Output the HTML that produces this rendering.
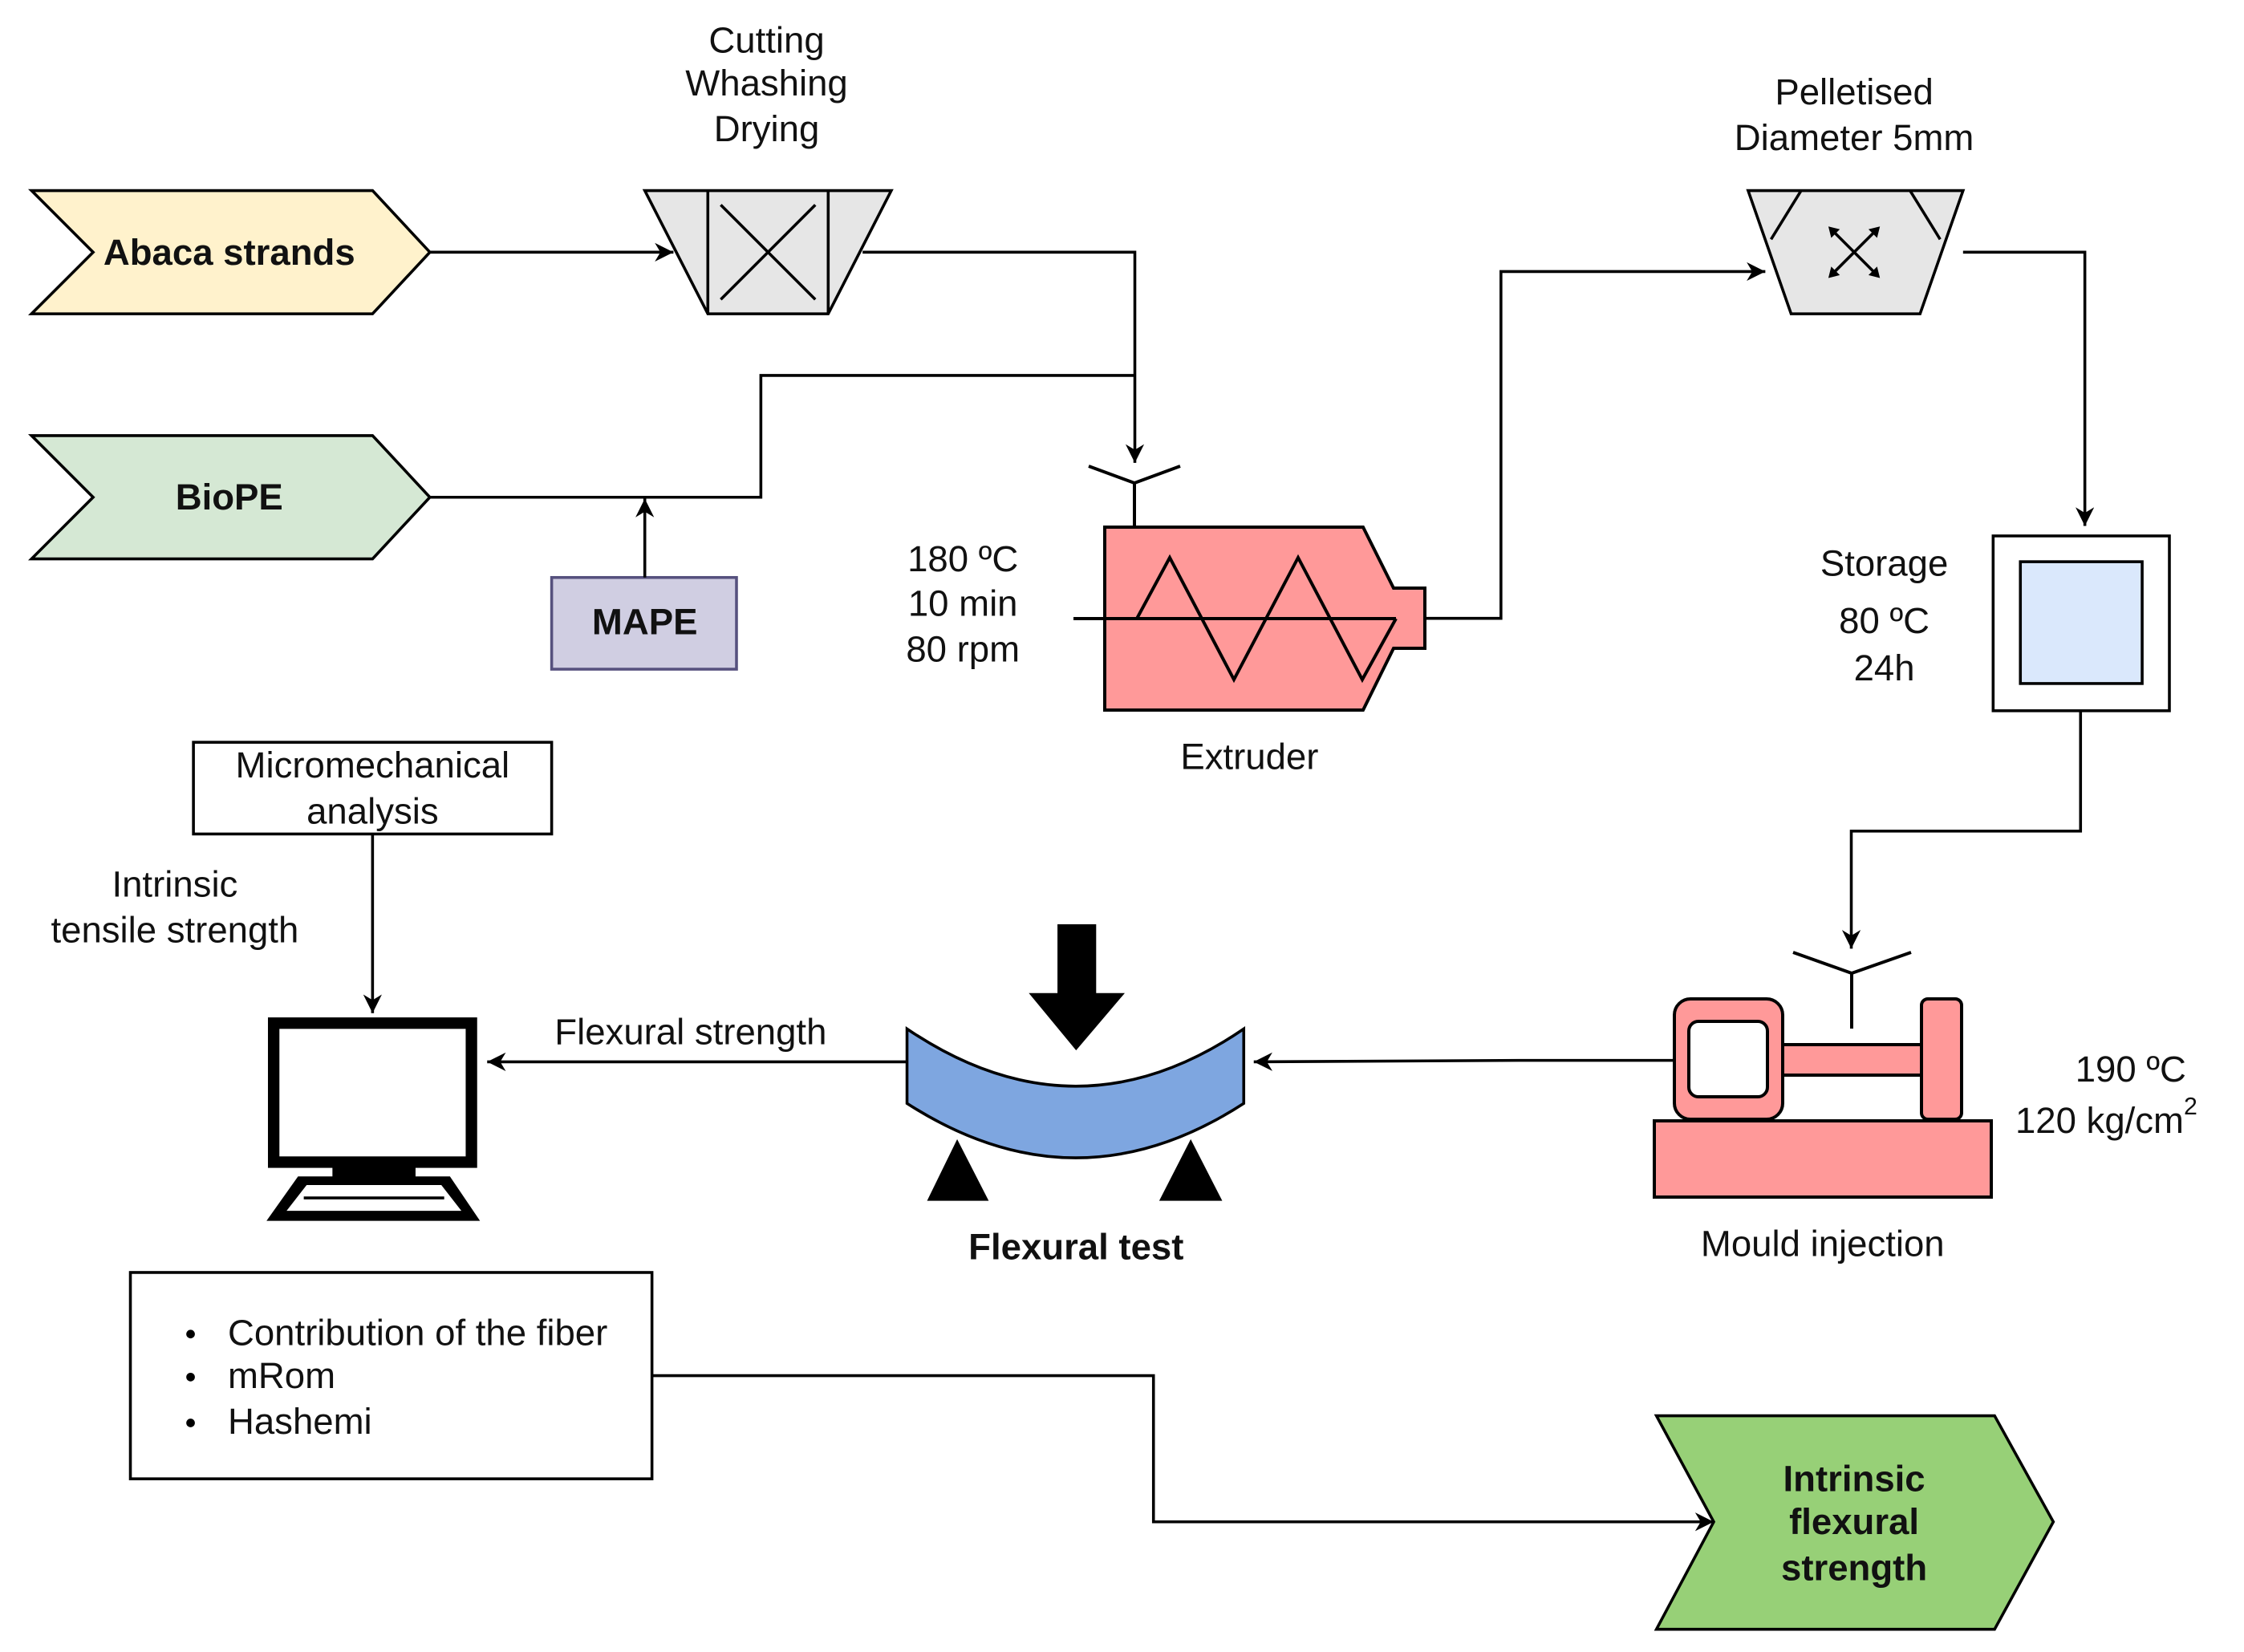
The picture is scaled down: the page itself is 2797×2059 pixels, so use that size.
<!DOCTYPE html>
<html><head><meta charset="utf-8"><style>
html,body{margin:0;padding:0;background:#fff}
svg{display:block}
text{font-family:"Liberation Sans","DejaVu Sans",sans-serif;fill:#111}
</style></head><body>
<svg width="2797" height="2059" viewBox="0 0 2797 2059" xmlns="http://www.w3.org/2000/svg">
<defs>
<marker id="a" viewBox="0 0 10 10" refX="10" refY="5" markerWidth="16" markerHeight="13" markerUnits="userSpaceOnUse" orient="auto">
<path d="M0,0 L10,5 L0,10 L3,5 z" fill="#000"/></marker>
</defs>
<g stroke="#000" stroke-width="4" stroke-linejoin="miter">
  <polygon points="1377,657 1699,657 1737,733 1776,733 1776,808 1737,808 1699,885 1377,885" fill="#ff9999"/>
  <line x1="1338" y1="771" x2="1740" y2="771"/>
  <polyline points="1417,771 1458,695 1538,847 1618,695 1698,847 1740,771" fill="none"/>
  <polyline points="1414,657 1414,602" fill="none"/>
  <polyline points="1357,581 1414,602 1471,581" fill="none"/>
  <rect x="2062" y="1397" width="420" height="95" fill="#ff9999"/>
  <rect x="2222" y="1302" width="173" height="38" fill="#ff9999"/>
  <rect x="2087" y="1245" width="135" height="150" rx="20" fill="#ff9999"/>
  <rect x="2105" y="1273" width="98" height="94" rx="12" fill="#fff"/>
  <rect x="2395" y="1245" width="50" height="150" rx="8" fill="#ff9999"/>
  <line x1="2308" y1="1213" x2="2308" y2="1282"/>
  <polyline points="2235,1187 2308,1213 2382,1187" fill="none"/>
</g>
<g transform="scale(1.786)">
<g stroke="#000" stroke-width="2" fill="none">
  <polygon points="22,133 260,133 300,176 260,219 22,219 65,176" fill="#fff2cc"/>
  <polygon points="22,304 260,304 300,347 260,390 22,390 65,347" fill="#d5e8d4"/>
  <polygon points="450,133 622,133 578,219 494,219" fill="#e6e6e6"/>
  <line x1="494" y1="133" x2="494" y2="219"/><line x1="578" y1="133" x2="578" y2="219"/>
  <line x1="503" y1="143" x2="569" y2="209"/><line x1="569" y1="143" x2="503" y2="209"/>
  <line x1="300" y1="176" x2="470" y2="176" marker-end="url(#a)"/>
  <polyline points="602,176 792,176 792,323" marker-end="url(#a)"/>
  <polyline points="300,347 531,347 531,262 792,262"/>
  <rect x="385" y="403" width="129" height="64" fill="#d0cee2" stroke="#56517e"/>
  <line x1="450" y1="403" x2="450" y2="348" marker-end="url(#a)"/>
  <polyline points="994,431.5 1047.5,431.5 1047.5,189.5 1232,189.5" marker-end="url(#a)"/>
  <polygon points="1220,133 1370,133 1340,219 1250,219" fill="#e6e6e6"/>
  <line x1="1257" y1="133" x2="1236" y2="167"/><line x1="1333" y1="133" x2="1354" y2="167"/>
  <line x1="1278" y1="160" x2="1310" y2="192"/><line x1="1310" y1="160" x2="1278" y2="192"/>
  <polyline points="1370,176 1455,176 1455,367" marker-end="url(#a)"/>
  <rect x="1391" y="374" width="123" height="122" fill="#fff"/>
  <rect x="1410" y="392" width="85" height="85" fill="#dae8fc"/>
  <polyline points="1452,496 1452,580 1292,580 1292,662" marker-end="url(#a)"/>
  <polyline points="1168,740 1060,740 875,741" marker-end="url(#a)"/>
  <path d="M633,718 Q751,798 868,718 L868,770 Q751,846 633,770 Z" fill="#7ea6e0"/>
  <line x1="633" y1="741" x2="340" y2="741" marker-end="url(#a)"/>
  <rect x="135" y="518" width="250" height="64" fill="#fff"/>
  <line x1="260" y1="582" x2="260" y2="707" marker-end="url(#a)"/>
  <rect x="91" y="888" width="364" height="144" fill="#fff"/>
  <polyline points="455,960 805,960 805,1062 1196,1062" marker-end="url(#a)"/>
  <polygon points="1156,988 1392,988 1433,1062 1392,1137 1156,1137 1196,1062" fill="#97d077"/>
</g>
<rect x="738" y="645" width="27" height="50" fill="#000"/>
<polygon points="718,693 785,693 751,733" fill="#000"/>
<polygon points="647,838 690,838 668,795" fill="#000"/>
<polygon points="809,838 853,838 831,795" fill="#000"/>
<g fill="#000">
<polygon points="1276,158 1284,160 1278,166"/><polygon points="1312,158 1304,160 1310,166"/>
<polygon points="1276,194 1284,192 1278,186"/><polygon points="1312,194 1304,192 1310,186"/>
</g>
<rect x="191" y="714" width="138" height="97" fill="#fff" stroke="#000" stroke-width="8"/>
<rect x="232" y="812" width="58" height="10" fill="#000"/>
<polygon points="208,821 314,821 335,852 186,852" fill="#000"/>
<polygon points="214,827 308,827 322,845 200,845" fill="#fff"/>
<line x1="212" y1="836" x2="310" y2="836" stroke="#000" stroke-width="2"/>
<g font-size="25.5" text-anchor="middle" dominant-baseline="central">
<text x="160" y="176" font-weight="bold">Abaca strands</text>
<text x="160" y="347" font-weight="bold">BioPE</text>
<text x="450" y="434" font-weight="bold">MAPE</text>
<text x="535" y="28">Cutting</text><text x="535" y="58">Whashing</text><text x="535" y="90">Drying</text>
<text x="1294" y="64">Pelletised</text><text x="1294" y="96">Diameter 5mm</text>
<text x="672" y="390">180 ºC</text><text x="672" y="421">10 min</text><text x="672" y="453">80 rpm</text>
<text x="872" y="528">Extruder</text>
<text x="1315" y="393">Storage</text><text x="1315" y="433">80 ºC</text><text x="1315" y="466">24h</text>
<text x="1487" y="746">190 ºC</text>
<text x="1470" y="782">120 kg/cm<tspan font-size="17" dy="-10">2</tspan></text>
<text x="1272" y="868">Mould injection</text>
<text x="751" y="870" font-weight="bold">Flexural test</text>
<text x="482" y="720">Flexural strength</text>
<text x="260" y="534">Micromechanical</text><text x="260" y="566">analysis</text>
<text x="122" y="617">Intrinsic</text><text x="122" y="649">tensile strength</text>
<text x="1294" y="1032" font-weight="bold">Intrinsic</text>
<text x="1294" y="1062" font-weight="bold">flexural</text>
<text x="1294" y="1094" font-weight="bold">strength</text>
</g>
<g font-size="25.5" dominant-baseline="central">
<text x="159" y="930">Contribution of the fiber</text>
<text x="159" y="960">mRom</text>
<text x="159" y="992">Hashemi</text>
</g>
<circle cx="133" cy="931" r="3" fill="#000"/><circle cx="133" cy="961" r="3" fill="#000"/><circle cx="133" cy="993" r="3" fill="#000"/>
</g>
</svg>
</body></html>
